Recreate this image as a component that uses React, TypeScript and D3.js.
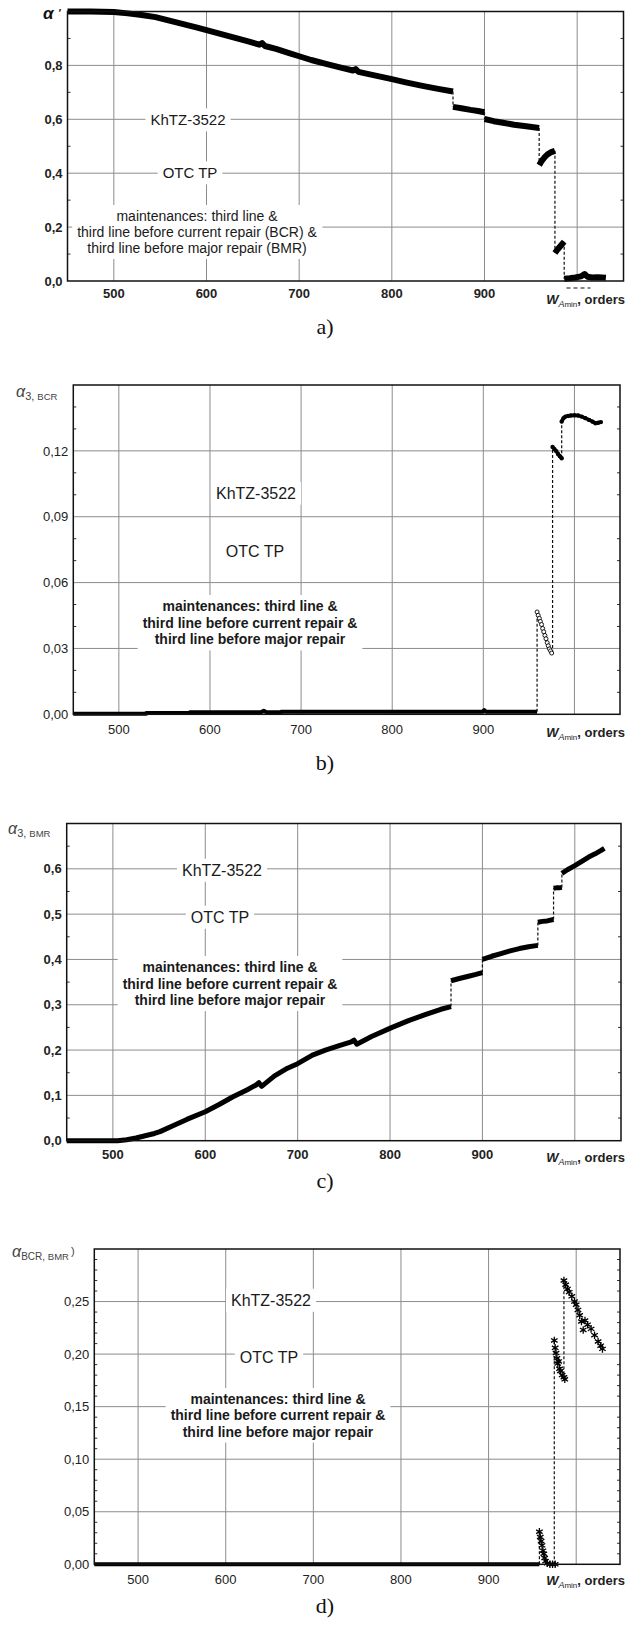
import { useEffect, useRef } from "react";
import * as d3 from "d3";

type Pt = [number, number];

const W = 626;
const H = 1627;
const FONT = "'Liberation Sans', Arial, sans-serif";
const GRID = "#8c8c8c";

// x axis (common to all four panels)
const xDomain = [450, 1050];
const xGrid = [500, 600, 700, 800, 900, 1000];
const xLabels = [500, 600, 700, 800, 900];

// y ticks
const yTicksA = [0, 0.2, 0.4, 0.6, 0.8];
const yTicksB = [0, 0.03, 0.06, 0.09, 0.12];
const yTicksC = [0, 0.1, 0.2, 0.3, 0.4, 0.5, 0.6];
const yTicksD = [0, 0.05, 0.1, 0.15, 0.2, 0.25];

// annotation texts
const modelName = "KhTZ-3522";
const strategyName = "OTC TP";
const maintA = [
  "maintenances: third line &",
  "third line before current repair (BCR) &",
  "third line before major repair (BMR)",
];
const maintBCD = [
  "maintenances: third line &",
  "third line before current repair &",
  "third line before major repair",
];

// a) alpha' - one array per continuous piece
const alphaPrime: Pt[][] = [
  [
    [450, 1.0], [475, 1.0], [500, 0.998], [515, 0.993], [530, 0.987], [545, 0.979],
    [560, 0.966], [575, 0.953], [590, 0.94], [600, 0.931], [615, 0.917], [630, 0.903],
    [645, 0.889], [657, 0.877], [660, 0.883], [663, 0.872], [675, 0.861], [690, 0.845],
    [700, 0.834], [713, 0.82], [730, 0.805], [745, 0.792], [758, 0.781], [761, 0.786],
    [764, 0.776], [780, 0.764], [800, 0.749], [815, 0.737], [833, 0.724], [850, 0.713],
    [866, 0.703],
  ],
  [[866, 0.646], [875, 0.641], [885, 0.635], [893, 0.631], [900, 0.626]],
  [[900, 0.601], [910, 0.593], [920, 0.587], [932, 0.58], [945, 0.574], [959, 0.568]],
  [[959, 0.43], [962, 0.447], [965, 0.46], [968, 0.47], [972, 0.478], [976, 0.483]],
  [[976, 0.104], [979, 0.118], [982, 0.13], [986, 0.146]],
  [
    [986, 0.008], [992, 0.01], [998, 0.013], [1004, 0.017], [1008, 0.026], [1011, 0.016],
    [1016, 0.013], [1022, 0.014], [1027, 0.013], [1031, 0.012],
  ],
];

// b) alpha 3,BCR
const alpha3BCR: Pt[][] = [
  [
    [450, 0.0003], [530, 0.0003], [530, 0.0006], [578, 0.0006], [578, 0.0009], [656, 0.0009],
    [659, 0.0016], [662, 0.0009], [678, 0.0009], [678, 0.0012], [899, 0.0012], [901, 0.0019],
    [903, 0.0012], [959, 0.0012],
  ],
  [
    [959, 0.0466], [960.2, 0.0451], [961.5, 0.0437], [962.6, 0.0423], [963.9, 0.0409],
    [965.1, 0.0391], [966.3, 0.0376], [967.6, 0.0359], [968.8, 0.0344], [970.1, 0.0326],
    [971.3, 0.0312], [972.6, 0.0298], [973.8, 0.0289], [975, 0.0279],
  ],
  [[976, 0.1218], [978, 0.1208], [980, 0.1199], [982, 0.1186], [984, 0.1176], [986, 0.1166]],
  [
    [986, 0.1334], [988, 0.1349], [990, 0.1356], [993, 0.1359], [996, 0.1361], [1000, 0.1362],
    [1004, 0.1361], [1008, 0.1356], [1012, 0.1349], [1016, 0.1341], [1020, 0.1333],
    [1023, 0.1326], [1026, 0.1328], [1029, 0.1331],
  ],
];

// c) alpha 3,BMR
const alpha3BMR: Pt[][] = [
  [
    [450, 0], [505, 0], [515, 0.002], [525, 0.006], [535, 0.011], [545, 0.016], [551, 0.02],
    [565, 0.033], [580, 0.047], [600, 0.064], [615, 0.08], [630, 0.097], [645, 0.112],
    [655, 0.123], [658, 0.128], [661, 0.12], [675, 0.143], [689, 0.16], [700, 0.17],
    [716, 0.189], [730, 0.2], [745, 0.21], [758, 0.218], [761, 0.222], [764, 0.213],
    [780, 0.23], [801, 0.249], [820, 0.265], [838, 0.278], [855, 0.29], [866, 0.296],
  ],
  [[866, 0.353], [875, 0.358], [885, 0.363], [893, 0.367], [900, 0.371]],
  [[900, 0.4], [910, 0.407], [920, 0.413], [930, 0.419], [940, 0.424], [950, 0.428], [960, 0.431]],
  [[960, 0.482], [965, 0.484], [970, 0.485], [977, 0.488]],
  [[977, 0.557], [980, 0.558], [983, 0.558], [986, 0.559]],
  [
    [986, 0.59], [992, 0.598], [1000, 0.607], [1008, 0.617], [1015, 0.626], [1022, 0.633],
    [1028, 0.64], [1032, 0.645],
  ],
];

// d) alpha BCR,BMR
const alphaBCRBMR: Pt[][] = [
  [[450, 0], [958, 0]],
  [
    [958, 0.031], [959, 0.026], [960, 0.022], [961, 0.018], [962, 0.013], [963, 0.01],
    [964, 0.006], [965, 0.003], [967, 0.001], [970, 0], [973, 0], [976, 0],
  ],
  [
    [975, 0.213], [976, 0.206], [977, 0.201], [978, 0.196], [979, 0.191], [980, 0.193],
    [981, 0.186], [982, 0.184], [984, 0.18], [986, 0.178], [987, 0.176],
  ],
  [
    [986, 0.27], [988, 0.266], [990, 0.262], [992, 0.259], [995, 0.255], [998, 0.25],
    [1000, 0.247], [1002, 0.242], [1004, 0.237], [1006, 0.231], [1008, 0.223], [1010, 0.232],
    [1013, 0.228], [1017, 0.224], [1021, 0.218], [1025, 0.212], [1028, 0.208], [1030, 0.205],
  ],
];

type Panel = {
  id: string;
  segments: Pt[][];
  styles: string[];
  yMax: number;
  yTicks: number[];
  digits: number;
  minor: number;
  left: number;
  right: number;
  top: number;
  bottom: number;
  tickWeight: string;
  labelDy: number;
  wDy: number;
  lineWidth: number;
  kh: [number, number, number];
  otc: [number, number, number];
  maint: string[];
  maintPos: [number, number, number];
  maintWeight: string;
  caption: string;
  captionY: number;
};

const panels: Panel[] = [
  {
    id: "a", segments: alphaPrime, styles: ["thick", "thick", "thick", "thick", "thick", "thick"],
    yMax: 1.0, yTicks: yTicksA, digits: 1, minor: 2,
    left: 67.5, right: 623.5, top: 11.5, bottom: 281,
    tickWeight: "bold", labelDy: 17, wDy: 23, lineWidth: 6,
    kh: [188, 120, 15], otc: [190, 173, 15],
    maint: maintA, maintPos: [197, 216, 16], maintWeight: "normal",
    caption: "a)", captionY: 334,
  },
  {
    id: "b", segments: alpha3BCR, styles: ["band", "hollow", "dots", "dots"],
    yMax: 0.15, yTicks: yTicksB, digits: 2, minor: 3,
    left: 73.3, right: 620, top: 385, bottom: 714.3,
    tickWeight: "normal", labelDy: 20, wDy: 23, lineWidth: 4,
    kh: [256, 493, 16], otc: [255, 551, 16],
    maint: maintBCD, maintPos: [250, 606, 16.7], maintWeight: "bold",
    caption: "b)", captionY: 770,
  },
  {
    id: "c", segments: alpha3BMR, styles: ["thick", "thick", "thick", "thick", "thick", "thick"],
    yMax: 0.7, yTicks: yTicksC, digits: 1, minor: 2,
    left: 66.7, right: 621, top: 823.5, bottom: 1140.7,
    tickWeight: "bold", labelDy: 18, wDy: 21, lineWidth: 5,
    kh: [222, 870, 16], otc: [220, 917, 16],
    maint: maintBCD, maintPos: [230, 967, 16.5], maintWeight: "bold",
    caption: "c)", captionY: 1188,
  },
  {
    id: "d", segments: alphaBCRBMR, styles: ["band", "stars", "stars", "stars"],
    yMax: 0.3, yTicks: yTicksD, digits: 2, minor: 5,
    left: 94.3, right: 620, top: 1249, bottom: 1564.3,
    tickWeight: "normal", labelDy: 20, wDy: 21, lineWidth: 4,
    kh: [271, 1300, 16], otc: [269, 1357, 16],
    maint: maintBCD, maintPos: [278, 1399, 16.3], maintWeight: "bold",
    caption: "d)", captionY: 1613,
  },
];

const fmt = (v: number, digits: number) => v.toFixed(digits).replace(".", ",");

function noteBlock(g: any, lines: string[], cx: number, y0: number, dy: number, size: number, weight: string) {
  const t = g
    .append("text")
    .attr("text-anchor", "middle")
    .attr("font-size", size)
    .attr("font-weight", weight)
    .attr("fill", "#1a1a1a");
  lines.forEach((l, i) => {
    t.append("tspan").attr("x", cx).attr("y", y0 + i * dy).attr("dy", "0.36em").text(l);
  });
  const bb = (t.node() as SVGTextElement).getBBox();
  g.insert("rect", () => t.node())
    .attr("x", bb.x - 5)
    .attr("y", bb.y - 3)
    .attr("width", bb.width + 10)
    .attr("height", bb.height + 6)
    .attr("fill", "#fff");
}

function drawTitle(g: any, p: Panel) {
  if (p.id === "a") {
    const t = g.append("text").attr("font-weight", "bold").attr("font-style", "italic").attr("fill", "#111");
    t.append("tspan").attr("x", 43).attr("y", p.top + 7).attr("font-size", 17).text("α");
    t.append("tspan").attr("x", 58).attr("y", p.top + 5).attr("font-size", 11).text("'");
    return;
  }
  const pos: Record<string, { x: number; y: number; sub: string; close?: boolean }> = {
    b: { x: 16, y: p.top + 12, sub: "3, BCR" },
    c: { x: 8, y: p.top + 10, sub: "3, BMR" },
    d: { x: 12, y: p.top + 8, sub: "BCR, BMR", close: true },
  };
  const o = pos[p.id];
  const t = g.append("text").attr("fill", "#444");
  t.append("tspan").attr("x", o.x).attr("y", o.y).attr("font-size", 16).attr("font-style", "italic").text("α");
  const [first, ...rest] = o.sub.split(" ");
  t.append("tspan").attr("dy", 3).attr("font-size", p.id === "d" ? 10 : 11).text(first + " ");
  t.append("tspan").attr("font-size", 9.5).text(rest.join(" "));
  if (o.close) t.append("tspan").attr("dx", 2).attr("dy", -5).attr("font-size", 11).text(")");
}

function drawPanel(svg: any, p: Panel) {
  const x = d3.scaleLinear().domain(xDomain).range([p.left, p.right]);
  const y = d3.scaleLinear().domain([0, p.yMax]).range([p.bottom, p.top]);
  const g = svg.append("g").attr("font-family", FONT);

  // grid
  g.selectAll(null)
    .data(xGrid)
    .join("line")
    .attr("x1", (d: number) => x(d))
    .attr("x2", (d: number) => x(d))
    .attr("y1", p.top)
    .attr("y2", p.bottom)
    .attr("stroke", GRID)
    .attr("stroke-width", 1);
  g.selectAll(null)
    .data(p.yTicks.filter((v) => v > 0))
    .join("line")
    .attr("x1", p.left)
    .attr("x2", p.right)
    .attr("y1", (d: number) => y(d))
    .attr("y2", (d: number) => y(d))
    .attr("stroke", GRID)
    .attr("stroke-width", 1);

  // minor ticks on left and right edges
  const major = p.yTicks[1];
  const minors = d3
    .range(0, Math.round(p.yMax / major * p.minor))
    .map((i) => (i * major) / p.minor)
    .filter((_, i) => i % p.minor !== 0);
  [p.left, p.right].forEach((ex, k) => {
    g.selectAll(null)
      .data(minors)
      .join("line")
      .attr("x1", ex)
      .attr("x2", ex + (k === 0 ? 3 : -3))
      .attr("y1", (d: number) => y(d))
      .attr("y2", (d: number) => y(d))
      .attr("stroke", "#333")
      .attr("stroke-width", 1);
  });

  // annotations with white boxes
  noteBlock(g, [modelName], p.kh[0], p.kh[1], 0, p.kh[2], "normal");
  noteBlock(g, [strategyName], p.otc[0], p.otc[1], 0, p.otc[2], "normal");
  noteBlock(g, p.maint, p.maintPos[0], p.maintPos[1], p.maintPos[2], 14, p.maintWeight);

  // dashed connectors between pieces
  p.segments.slice(1).forEach((seg, i) => {
    const prev = p.segments[i];
    const a = prev[prev.length - 1];
    const b = seg[0];
    g.append("line")
      .attr("x1", x(b[0]))
      .attr("x2", x(b[0]))
      .attr("y1", y(a[1]))
      .attr("y2", y(b[1]))
      .attr("stroke", "#111")
      .attr("stroke-width", 1.2)
      .attr("stroke-dasharray", "3,2");
  });

  const line = d3
    .line<Pt>()
    .x((d) => x(d[0]))
    .y((d) => y(d[1]));

  p.segments.forEach((seg, i) => {
    const style = p.styles[i];
    if (style === "thick" || style === "band") {
      g.append("path")
        .datum(seg)
        .attr("d", line)
        .attr("fill", "none")
        .attr("stroke", "#000")
        .attr("stroke-width", p.lineWidth)
        .attr("stroke-linejoin", "round");
    } else if (style === "hollow") {
      g.append("path").datum(seg).attr("d", line).attr("fill", "none").attr("stroke", "#000").attr("stroke-width", 1.5);
      g.selectAll(null)
        .data(seg)
        .join("circle")
        .attr("cx", (d: Pt) => x(d[0]))
        .attr("cy", (d: Pt) => y(d[1]))
        .attr("r", 2)
        .attr("fill", "#fff")
        .attr("stroke", "#000")
        .attr("stroke-width", 0.9);
    } else if (style === "dots") {
      g.append("path").datum(seg).attr("d", line).attr("fill", "none").attr("stroke", "#000").attr("stroke-width", 3.5);
      g.selectAll(null)
        .data(seg)
        .join("circle")
        .attr("cx", (d: Pt) => x(d[0]))
        .attr("cy", (d: Pt) => y(d[1]))
        .attr("r", 2.2)
        .attr("fill", "#000");
    } else if (style === "stars") {
      const sym = d3.symbol().type(d3.symbolAsterisk).size(40);
      g.selectAll(null)
        .data(seg)
        .join("path")
        .attr("transform", (d: Pt) => `translate(${x(d[0])},${y(d[1])})`)
        .attr("d", sym)
        .attr("fill", "none")
        .attr("stroke", "#000")
        .attr("stroke-width", 1.3);
    }
  });

  // frame
  g.append("rect")
    .attr("x", p.left)
    .attr("y", p.top)
    .attr("width", p.right - p.left)
    .attr("height", p.bottom - p.top)
    .attr("fill", "none")
    .attr("stroke", "#111")
    .attr("stroke-width", 1.5);

  // tick labels
  g.selectAll(null)
    .data(p.yTicks)
    .join("text")
    .attr("x", p.left - 5)
    .attr("y", (d: number) => y(d))
    .attr("dy", "0.36em")
    .attr("text-anchor", "end")
    .attr("font-size", 13)
    .attr("font-weight", p.tickWeight)
    .attr("fill", "#222")
    .text((d: number) => fmt(d, p.digits));
  g.selectAll(null)
    .data(xLabels)
    .join("text")
    .attr("x", (d: number) => x(d))
    .attr("y", p.bottom + p.labelDy)
    .attr("text-anchor", "middle")
    .attr("font-size", 13)
    .attr("font-weight", p.tickWeight)
    .attr("fill", "#222")
    .text((d: number) => d);

  // axis name
  const wl = g
    .append("text")
    .attr("x", 625)
    .attr("y", p.bottom + p.wDy)
    .attr("text-anchor", "end")
    .attr("fill", "#222")
    .attr("font-size", 13);
  wl.append("tspan").attr("font-style", "italic").attr("font-weight", "bold").text("W");
  wl.append("tspan").attr("font-style", "italic").attr("font-size", 9).attr("dy", 3).text("A");
  wl.append("tspan").attr("font-size", 8).text("min");
  wl.append("tspan").attr("font-weight", "bold").attr("dy", -3).text(", orders");
  if (p.id === "a") {
    g.append("line")
      .attr("x1", p.right - 57)
      .attr("x2", p.right - 33)
      .attr("y1", p.bottom + 7)
      .attr("y2", p.bottom + 7)
      .attr("stroke", "#111")
      .attr("stroke-width", 1.2)
      .attr("stroke-dasharray", "4,3");
  }

  drawTitle(g, p);

  // caption
  svg
    .append("text")
    .attr("x", 325)
    .attr("y", p.captionY)
    .attr("text-anchor", "middle")
    .attr("font-family", "'Liberation Serif', 'Times New Roman', serif")
    .attr("font-size", 22)
    .attr("fill", "#111")
    .text(p.caption);
}

export default function App() {
  const svgRef = useRef<SVGSVGElement>(null);

  useEffect(() => {
    const svg = d3.select(svgRef.current);
    svg.selectAll("*").remove();
    svg.append("rect").attr("width", W).attr("height", H).attr("fill", "#fff");
    panels.forEach((p) => drawPanel(svg, p));
  }, []);

  return (
    <div>
      <svg
        ref={svgRef}
        width={W}
        height={H}
        style={{ position: "absolute", left: 0, top: 0, display: "block", background: "#fff" }}
      ></svg>
    </div>
  );
}
